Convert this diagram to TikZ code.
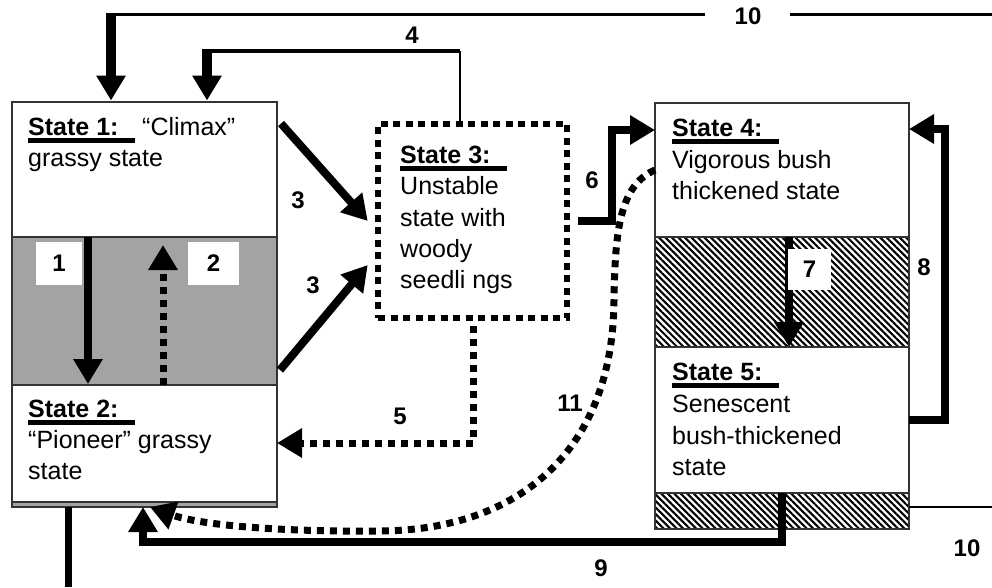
\documentclass[tikz,border=0pt]{standalone}
\usepackage{fontspec}
\setmainfont{Liberation Sans}
\usetikzlibrary{arrows.meta,patterns.meta}
\newcommand\stitle[1]{\rlap{\rule[-7.5pt]{107pt}{5pt}}\textbf{#1}}
\begin{document}
\begin{tikzpicture}[x=1pt,y=-1pt,
  rect/.style={draw=black!80,line width=1.3pt,inner sep=0pt,outer sep=0pt},
  whitebox/.style={rect,fill=white},
  grayband/.style={rect,fill=black!36},
  hatchband/.style={rect,pattern={Lines[angle=-45,distance=4.6pt,line width=2.1pt]}},
  dotbox/.style={draw=black,line width=6.5pt,dash pattern=on 7pt off 5.5pt,inner sep=0pt},
  txt/.style={anchor=base west,inner sep=0pt,font=\fontsize{25}{31}\selectfont},
  num/.style={inner sep=0pt,font=\fontsize{24}{26}\selectfont\bfseries},
  numbox/.style={num,fill=white},
  tip/.style={-{Triangle[width=28pt,length=25pt]}},
  arr/.style={line width=8pt,line join=miter,tip},
  varr/.style={line width=10pt,line join=miter,tip},
  darr/.style={line width=7pt,dash pattern=on 7pt off 6pt,tip},
  solid6/.style={line width=7pt,line join=miter}]
\useasboundingbox (0,0) rectangle (992,587);
% left column
\node[grayband,minimum width=265pt,minimum height=405pt] (col1) at (144.5,304.5) {};
\node[whitebox,minimum width=265pt,minimum height=135pt] (s1) at (144.5,169.5) {};
\node[grayband,minimum width=265pt,minimum height=148pt] (g12) at (144.5,311) {};
\node[whitebox,minimum width=265pt,minimum height=117pt] (s2) at (144.5,443.5) {};
\node[grayband,minimum width=265pt,minimum height=5pt] (g2) at (144.5,504.5) {};
% state 3
\node[dotbox,minimum width=189pt,minimum height=194pt] (s3) at (472.5,221) {};
% right column
\node[whitebox,minimum width=254pt,minimum height=134pt] (s4) at (782,170) {};
\node[hatchband,minimum width=254pt,minimum height=110pt] (h45) at (782,292) {};
\node[whitebox,minimum width=254pt,minimum height=146pt] (s5) at (782,420) {};
\node[hatchband,minimum width=254pt,minimum height=36pt] (h5) at (782,511) {};
% texts
\node[txt] (t1a) at (28,135) {\makebox[114pt][l]{\stitle{State 1:}}“Climax”};
\node[txt] (t1b) at (28,166) {grassy state};
\node[txt] (t2a) at (28,417) {\stitle{State 2:}};
\node[txt] (t2b) at (28,448) {“Pioneer” grassy};
\node[txt] (t2c) at (28,479) {state};
\node[txt] (t3a) at (400,163) {\stitle{State 3:}};
\node[txt] (t3b) at (400,194) {Unstable};
\node[txt] (t3c) at (400,226) {state with};
\node[txt] (t3d) at (400,257) {woody};
\node[txt] (t3e) at (400,288) {seedli ngs};
\node[txt] (t4a) at (672,136) {\stitle{State 4:}};
\node[txt] (t4b) at (672,168) {Vigorous bush};
\node[txt] (t4c) at (672,199) {thickened state};
\node[txt] (t5a) at (672,380) {\stitle{State 5:}};
\node[txt] (t5b) at (672,412) {Senescent};
\node[txt] (t5c) at (672,444) {bush-thickened};
\node[txt] (t5d) at (672,475) {state};
% helper coordinates
\coordinate (c88) at (88,0);
\coordinate (c163) at (163,0);
\coordinate (c789) at (789,0);
\coordinate (e10) at (992,14.5);
\coordinate (g10r) at (790,14.5);
\coordinate (g10l) at (705,14.5);
\coordinate (c102) at (106,14.5);
\coordinate (c111) at (111,12.5);
\coordinate (c4r) at (460,51);
\coordinate (c4l) at (202,51);
\coordinate (c207) at (207,49);
\coordinate (c6) at (612,130);
\coordinate (c5) at (473,443);
\coordinate (c8) at (945,129);
\coordinate (c9) at (782,542);
\coordinate (c9b) at (143,542);
\coordinate (bl) at (68,587);
\coordinate (e10b) at (992,507);
% arrow 1 and 2
\draw[arr] (c88 |- s1.south) -- ([yshift=1pt]c88 |- s2.north);
\draw[darr] (c163 |- s2.north) -- ++(0,-140);
\node[numbox,minimum width=46pt,minimum height=43pt] (l1) at (59,263.5) {1};
\node[numbox,minimum width=51pt,minimum height=43pt] (l2) at (213.5,263.5) {2};
% arrow 10 (top)
\draw[line width=3.5pt] (e10) -- (g10r);
\draw[line width=3.5pt] (g10l) -- (c102);
\draw[varr] (c111) -- ([yshift=1.5pt]c111 |- s1.north);
\node[num] (l10a) at (748,16) {10};
% arrow 4
\draw[line width=2pt] (c4r |- s3.north) -- (c4r);
\draw[line width=3.5pt] (c4r) -- (c4l);
\draw[varr] (c207) -- ([yshift=1.5pt]c207 |- s1.north);
\node[num] (l4) at (412,35) {4};
% arrows 3
\draw[arr] ([shift={(4,-46)}]s1.east) -- ([xshift=-7pt]s3.west);
\draw[arr] ([shift={(3,59)}]g12.east) -- ([shift={(-7,44)}]s3.west);
\node[num] (l3a) at (298,200) {3};
\node[num] (l3b) at (313,285) {3};
% arrow 6
\draw[arr] ([xshift=8pt]s3.east) -| (c6) -- (c6 -| s4.west);
\node[num] (l6) at (592,180) {6};
% arrow 5
\draw[darr] ([yshift=-5pt]c5 |- s3.south) -- (c5) -- (c5 -| s2.east);
\node[num] (l5) at (400,416) {5};
% arrow 7
\draw[arr] (c789 |- s4.south) -- (c789 |- s5.north);
\node[numbox,minimum width=43pt,minimum height=41pt] (l7) at (809.5,269.5) {7};
% arrow 8
\draw[arr] (s5.east) -| (c8) -- (c8 -| s4.east);
\node[num] (l8) at (924,267) {8};
% arrow 9
\draw[arr] (c9 |- s5.south) -- (c9) -- (c9b) -- (c9b |- g2.south);
\node[num] (l9) at (601,568) {9};
% line 10 (bottom right)
\draw[line width=2.5pt] (e10b -| h5.east) -- (e10b);
\node[num] (l10b) at (967,548) {10};
% arrow 11
\draw[darr] (s4.west) .. controls (620,185) and (615,230) .. (614,300)
  .. controls (613,450) and (520,530) .. (380,531)
  .. controls (280,532) and (200,525) .. (150,507);
\node[num] (l11) at (570,403) {11};
% bottom left line
\draw[solid6] (bl |- g2.south) -- (bl);
\end{tikzpicture}
\end{document}
